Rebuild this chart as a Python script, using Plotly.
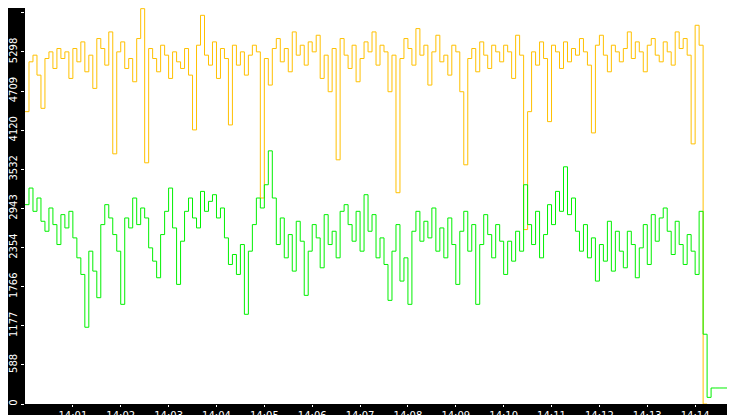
import pandas as pd
import plotly.graph_objects as go

# Values sampled every 5 seconds from 14:00:00
yellow_vals = [
    4400, 5150, 5250, 4950, 4450, 5200, 5300, 5050, 5350, 5200,
    5300, 4900, 5350, 5150, 5450, 5000, 5250, 4750, 5500, 5350,
    5100, 5600, 3765, 5300, 5450, 5050, 5200, 4850, 5500, 5950,
    3630, 5350, 5200, 5000, 5400, 5250, 4900, 5300, 5150, 5050,
    5350, 4950, 4125, 5400, 5850, 5250, 5100, 5450, 4900, 5350,
    5200, 4200, 5400, 5100, 5300, 4950, 5250, 5400, 5300, 3100,
    5200, 4800, 5350, 5500, 5150, 5350, 5000, 5600, 5250, 5400,
    5100, 5450, 5300, 5550, 4900, 5250, 4700, 5350, 3675, 5500,
    5250, 5050, 5400, 4850, 5200, 5450, 5300, 5600, 5100, 5400,
    5300, 4700, 5250, 3180, 5200, 5500, 5350, 5100, 5650, 5250,
    5400, 4800, 5300, 5550, 5150, 5250, 4950, 5400, 5300, 4700,
    3600, 5200, 5350, 5000, 5450, 5250, 5050, 5400, 5300, 5150,
    5400, 5300, 4900, 5550, 5250, 2625, 4400, 5300, 5100, 5450,
    5200, 4250, 5400, 5300, 5050, 5450, 5150, 5350, 5250, 5500,
    5300, 5100, 4080, 5400, 5550, 5250, 5000, 5400, 5300, 5150,
    5350, 5600, 5200, 5450, 5300, 5000, 5400, 5500, 5250, 5150,
    5450, 5300, 5100, 5600, 5350, 5500, 5250, 3915, 5700, 5400,
    0, 0,
]

green_vals = [
    3000, 3250, 2900, 3100, 2750, 2600, 2950, 2700, 2400, 2850,
    2650, 2900, 2500, 2200, 1950, 1155, 2300, 2000, 1600, 2700,
    3000, 2800, 2550, 2300, 1500, 2800, 2650, 3100, 2700, 2950,
    2800, 2350, 2150, 1900, 2550, 2900, 3250, 2650, 1800, 2450,
    2900, 3100, 2800, 2650, 3200, 2900, 3050, 3150, 2800, 2950,
    2500, 2100, 2250, 1950, 2400, 1350, 2300, 2700, 3100, 2950,
    3300, 3810, 3100, 2400, 2800, 2200, 2550, 2000, 2750, 2450,
    1635, 2300, 2700, 2500, 2050, 2850, 2400, 2600, 2200, 2900,
    3000, 2700, 2450, 2900, 2300, 3150, 2600, 2850, 2200, 2500,
    2100, 1560, 2300, 2700, 1850, 2200, 1500, 2600, 2900, 2450,
    2750, 2500, 2950, 2300, 2650, 2200, 2800, 2400, 1800, 2600,
    2900, 2300, 2700, 1500, 2400, 2850, 2550, 2200, 2700, 2450,
    1950, 2450, 2150, 2600, 2300, 3300, 2700, 2400, 2900, 2200,
    2550, 3000, 2700, 3200, 2900, 3570, 2850, 3100, 2600, 2300,
    2700, 2200, 2500, 1850, 2400, 2150, 2750, 2000, 2600, 2300,
    2050, 2600, 2400, 1900, 2350, 2700, 2100, 2850, 2450, 2800,
    2950, 2600, 2250, 2750, 2400, 2100, 2550, 2300, 1950, 2900,
    1050, 100, 241, 241, 241, 241, 241, 241, 241, 241, 241,
]

y_ticks = [0, 588, 1177, 1766, 2354, 2943, 3532, 4120, 4709, 5298, 5887]

start = pd.Timestamp("2024-01-01 14:00:00")
yellow_t = pd.date_range(start, periods=len(yellow_vals), freq="5s")
green_t = pd.date_range(start, periods=len(green_vals), freq="5s")
minute_ticks = pd.date_range("2024-01-01 14:01:00", "2024-01-01 14:14:00", freq="1min")

fig = go.Figure()
fig.add_trace(go.Scatter(x=yellow_t, y=yellow_vals, mode="lines", line_shape="hv",
                         line=dict(color="#FFC000", width=1)))
fig.add_trace(go.Scatter(x=green_t, y=green_vals, mode="lines", line_shape="hv",
                         line=dict(color="#00F000", width=1)))

tick_font = dict(family="DejaVu Sans", size=10, color="white")
fig.update_layout(
    width=735, height=415,
    margin=dict(l=15, r=0, t=0, b=19),
    paper_bgcolor="black",
    plot_bgcolor="white",
    showlegend=False,
    xaxis=dict(
        range=[start, pd.Timestamp("2024-01-01 14:15:00")],
        tickvals=minute_ticks, tickformat="%H:%M",
        ticks="outside", ticklen=2, tickcolor="white",
        tickfont=tick_font, showgrid=False, zeroline=False,
    ),
    yaxis=dict(
        range=[0, 5960], tickvals=y_ticks, tickangle=-90,
        ticks="outside", ticklen=3, tickcolor="white",
        tickfont=tick_font, showgrid=False, zeroline=False,
    ),
)

fig.write_html("out.html")
